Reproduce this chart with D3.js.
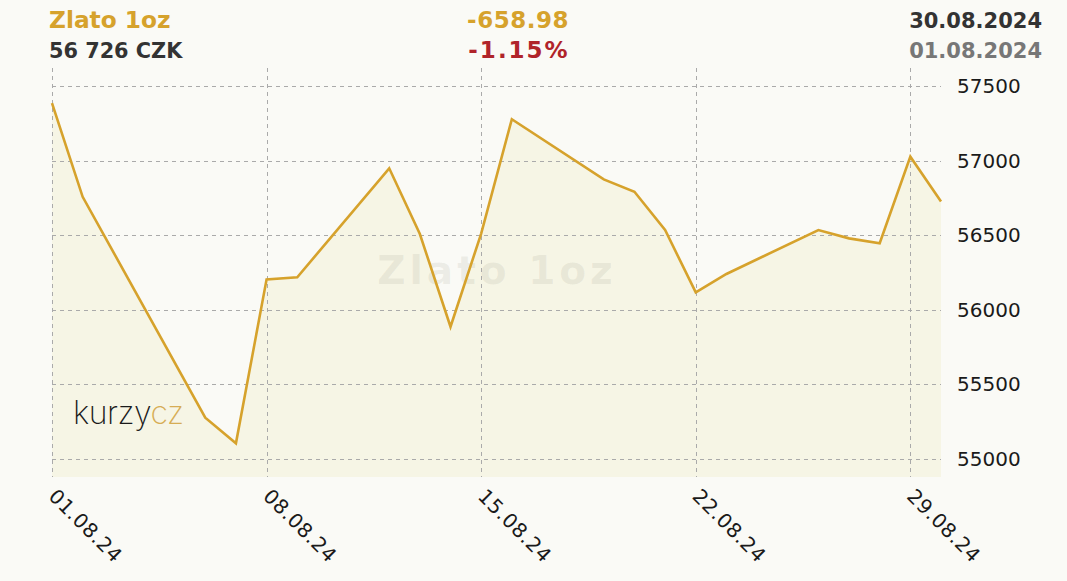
<!DOCTYPE html>
<html>
<head>
<meta charset="utf-8">
<script src="https://cdn.jsdelivr.net/npm/d3@7"></script>
<style>
  html, body { margin: 0; padding: 0; background: #fafaf6; }
  svg { display: block; }
</style>
</head>
<body>
<svg id="canvas"></svg>
<script>
// daily price of 1oz gold in CZK, August 2024 (trading days)
const days = ['2024-08-01', '2024-08-02', '2024-08-06', '2024-08-07', '2024-08-08', '2024-08-09',
    '2024-08-12', '2024-08-13', '2024-08-14', '2024-08-15', '2024-08-16', '2024-08-19',
    '2024-08-20', '2024-08-21', '2024-08-22', '2024-08-23', '2024-08-26', '2024-08-27',
    '2024-08-28', '2024-08-29', '2024-08-30']
const prices = [57385, 56757, 55275, 55103, 56203, 56217, 56948, 56507, 55885, 56510, 57277,
    56874, 56791, 56534, 56116, 56239, 56534, 56478, 56445, 57026, 56726]
const xTickDays = ['2024-08-01', '2024-08-08', '2024-08-15', '2024-08-22', '2024-08-29']
const yTicks = [55000, 55500, 56000, 56500, 57000, 57500]
const yDomain = [54877, 57621]

const title = 'Zlato 1oz'
const lastValue = '56 726 CZK'
const change = '-658.98'
const changePct = '-1.15%'
const dateTo = '30.08.2024'
const dateFrom = '01.08.2024'

const W = 1067, H = 581
const gold = '#d6a22c'
const parse = d3.timeParse('%Y-%m-%d')
const fmtTick = d3.timeFormat('%d.%m.%y')

const dataset = days.map((d, i) => ({ date: parse(d), value: prices[i] }))

const svg = d3.select('#canvas').attr('width', W).attr('height', H)

const plot = { left: 52, right: 941, top: 68, bottom: 477 }

const x = d3.scaleTime()
    .domain([parse('2024-08-01'), parse('2024-08-30')])
    .range([plot.left, plot.right])
const y = d3.scaleLinear().domain(yDomain).range([plot.bottom, plot.top])

// area under the line
svg.append('path')
    .datum(dataset)
    .attr('fill', '#f6f5e5')
    .attr('d', d3.area().x(d => x(d.date)).y0(plot.bottom).y1(d => y(d.value)))

// watermark
svg.append('text')
    .attr('x', 497).attr('y', 284)
    .attr('text-anchor', 'middle')
    .attr('font-family', 'DejaVu Sans')
    .attr('font-weight', 'bold')
    .attr('font-size', 39)
    .attr('letter-spacing', 4)
    .attr('fill', '#8a8a7a')
    .attr('fill-opacity', 0.13)
    .text(title)

// logo
const logo = svg.append('text')
    .attr('x', 73).attr('y', 424)
    .attr('font-family', 'Inter')
    .attr('font-weight', 200)
    .attr('font-size', 32)
    .attr('letter-spacing', -0.5)
logo.append('tspan').attr('fill', '#1a1a1a').text('kurzy')
logo.append('tspan').attr('fill', '#d6ad55').text('cz')

// grid
const grid = svg.append('g')
    .attr('stroke', '#aaaaaa')
    .attr('stroke-width', 1)
    .attr('stroke-dasharray', '4,4')
grid.selectAll('line.h')
    .data(yTicks)
    .enter()
    .append('line')
        .attr('class', 'h')
        .attr('x1', plot.left).attr('x2', plot.right)
        .attr('y1', d => Math.round(y(d)) + 0.5)
        .attr('y2', d => Math.round(y(d)) + 0.5)
grid.selectAll('line.v')
    .data(xTickDays)
    .enter()
    .append('line')
        .attr('class', 'v')
        .attr('x1', d => Math.round(x(parse(d))) + 0.5)
        .attr('x2', d => Math.round(x(parse(d))) + 0.5)
        .attr('y1', plot.top).attr('y2', plot.bottom)

// line
svg.append('path')
    .datum(dataset)
    .attr('fill', 'none')
    .attr('stroke', gold)
    .attr('stroke-width', 2.6)
    .attr('stroke-linejoin', 'miter')
    .attr('d', d3.line().x(d => x(d.date)).y(d => y(d.value)))

// y labels
svg.selectAll('text.ylab')
    .data(yTicks)
    .enter()
    .append('text')
        .attr('class', 'ylab')
        .attr('x', 957)
        .attr('y', d => y(d))
        .attr('dy', '0.36em')
        .attr('font-family', 'DejaVu Sans')
        .attr('font-size', 20)
        .attr('fill', '#1a1a1a')
        .text(d => d)

// x labels, rotated
svg.selectAll('text.xlab')
    .data(xTickDays)
    .enter()
    .append('text')
        .attr('class', 'xlab')
        .attr('transform', d => `translate(${x(parse(d)) + 6}, 487) rotate(45)`)
        .attr('dy', '0.74em')
        .attr('font-family', 'DejaVu Sans')
        .attr('font-size', 20)
        .attr('letter-spacing', 0.6)
        .attr('fill', '#1a1a1a')
        .text(d => fmtTick(parse(d)))

// header
const header = [
    { t: title, x: 49, y: 28, anchor: 'start', size: 23.3, ls: 0, color: gold },
    { t: lastValue, x: 49, y: 58, anchor: 'start', size: 20.8, ls: 0, color: '#333333' },
    { t: change, x: 518, y: 28, anchor: 'middle', size: 23, ls: 0.5, color: gold },
    { t: changePct, x: 519, y: 58, anchor: 'middle', size: 23, ls: 2, color: '#b0242a' },
    { t: dateTo, x: 1042, y: 28, anchor: 'end', size: 21, ls: 0, color: '#333333' },
    { t: dateFrom, x: 1042, y: 58, anchor: 'end', size: 21, ls: 0, color: '#777777' }
]
svg.selectAll('text.head')
    .data(header)
    .enter()
    .append('text')
        .attr('class', 'head')
        .attr('x', d => d.x).attr('y', d => d.y)
        .attr('text-anchor', d => d.anchor)
        .attr('font-family', 'DejaVu Sans')
        .attr('font-weight', 'bold')
        .attr('font-size', d => d.size)
        .attr('letter-spacing', d => d.ls)
        .attr('fill', d => d.color)
        .text(d => d.t)
</script>
</body>
</html>
